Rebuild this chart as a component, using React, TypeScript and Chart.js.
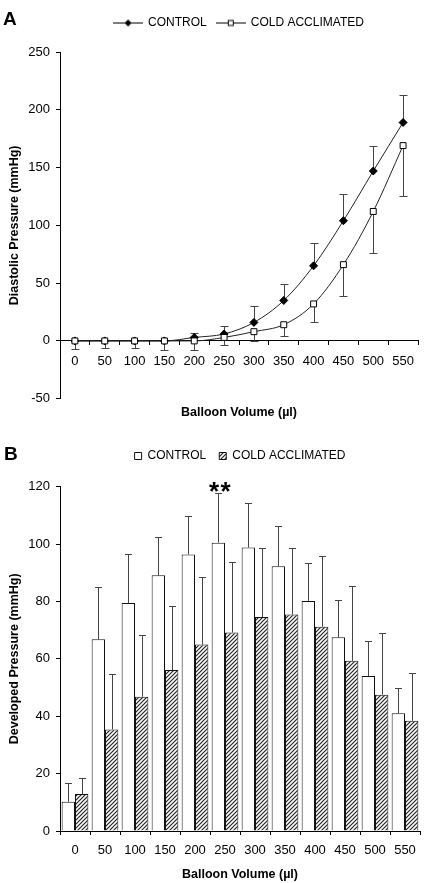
import React, { useEffect, useRef } from "react";
import { Chart, registerables } from "chart.js";

Chart.register(...registerables);

// ---------- data ----------
const volumes = ["0", "50", "100", "150", "200", "250", "300", "350", "400", "450", "500", "550"];
const seriesNames = ["CONTROL", "COLD ACCLIMATED"];

// Panel A: diastolic pressure (mmHg)
const diastolicControl = [0, 0, 0, 0, 3, 6, 16, 35, 65, 104, 147, 189];
const diastolicControlErr = [0, 0, 0, 0, 4, 7, 14, 14, 20, 23, 22, 24];
const diastolicCold = [0, 0, 0, 0, 0, 3, 8, 14, 32, 66, 112, 169];
const diastolicColdErr = [7, 6, 6.5, 8, 8, 6.7, 8, 9.5, 15.5, 27, 35.5, 44];

// Panel B: developed pressure (mmHg)
const developedControl = [10.2, 66.8, 79.5, 89.1, 96.4, 100.5, 98.8, 92.3, 80.2, 67.5, 54, 41];
const developedControlErr = [6.4, 18.1, 17.2, 13.4, 13.3, 17.2, 15.4, 14.1, 13.3, 13, 12.3, 8.7];
const developedCold = [12.9, 35.4, 46.8, 56.1, 65, 69.2, 74.6, 75.5, 71.2, 59.3, 47.5, 38.4];
const developedColdErr = [5.5, 19.3, 21.5, 22.3, 23.6, 24.6, 24.2, 23, 24.8, 26.1, 21.4, 16.8];
const significance = ["", "", "", "", "", "**", "", "", "", "", "", ""];

const FONT = "'Liberation Sans', Arial, Helvetica, sans-serif";

Chart.defaults.font.family = FONT;
Chart.defaults.color = "#000";

// ---------- helpers ----------
function lineSymbol(kind: "diamond" | "square"): HTMLCanvasElement {
  const c = document.createElement("canvas");
  c.width = 30;
  c.height = 11;
  const g = c.getContext("2d")!;
  g.strokeStyle = "#000";
  g.lineWidth = 1;
  g.beginPath();
  g.moveTo(0, 5.5);
  g.lineTo(30, 5.5);
  g.stroke();
  if (kind === "diamond") {
    g.fillStyle = "#000";
    g.beginPath();
    g.moveTo(15, 2);
    g.lineTo(18.5, 5.5);
    g.lineTo(15, 9);
    g.lineTo(11.5, 5.5);
    g.closePath();
    g.fill();
  } else {
    g.fillStyle = "#fff";
    g.fillRect(12.5, 3, 5, 5);
    g.strokeRect(12.5, 3, 5, 5);
  }
  return c;
}

function makeHatch(): CanvasPattern | string {
  const c = document.createElement("canvas");
  c.width = 4;
  c.height = 4;
  const g = c.getContext("2d")!;
  g.fillStyle = "#fff";
  g.fillRect(0, 0, 4, 4);
  g.strokeStyle = "#222";
  g.lineWidth = 1.2;
  g.beginPath();
  g.moveTo(-1, 5);
  g.lineTo(5, -1);
  g.moveTo(-1, 1);
  g.lineTo(1, -1);
  g.moveTo(3, 5);
  g.lineTo(5, 3);
  g.stroke();
  return g.createPattern(c, "repeat") || "#888";
}

const errorBarsPlugin = {
  id: "errorBars",
  beforeDatasetsDraw(chart: any) {
    const ctx = chart.ctx;
    chart.data.datasets.forEach((ds: any, di: number) => {
      if (!ds.errors) return;
      const meta = chart.getDatasetMeta(di);
      const yScale = chart.scales[meta.yAxisID];
      const cap = ds.errorCap || 4;
      ctx.save();
      ctx.strokeStyle = ds.errorColor || "#444";
      ctx.lineWidth = 1;
      meta.data.forEach((el: any, i: number) => {
        const v = ds.data[i];
        const e = ds.errors[i];
        if (!e) return;
        const x = Math.round(el.x) + 0.5;
        const y0 = yScale.getPixelForValue(v);
        const y1 = Math.round(yScale.getPixelForValue(v + ds.errorDir * e)) + 0.5;
        ctx.beginPath();
        ctx.moveTo(x, y0);
        ctx.lineTo(x, y1);
        ctx.moveTo(x - cap, y1);
        ctx.lineTo(x + cap, y1);
        ctx.stroke();
      });
      ctx.restore();
    });
  },
};

const annotationsPlugin = {
  id: "annotations",
  afterDatasetsDraw(chart: any, _args: any, opts: any) {
    const ctx = chart.ctx;
    if (opts && opts.panel) {
      ctx.save();
      ctx.fillStyle = "#000";
      ctx.font = `bold 19px ${FONT}`;
      ctx.textBaseline = "alphabetic";
      ctx.textAlign = "left";
      ctx.fillText(opts.panel, opts.panelX, opts.panelY);
      ctx.restore();
    }
    if (opts && opts.marks) {
      const ds = chart.data.datasets[0];
      const meta = chart.getDatasetMeta(0);
      const yScale = chart.scales[meta.yAxisID];
      ctx.save();
      ctx.fillStyle = "#000";
      ctx.font = `bold 26px ${FONT}`;
      ctx.textAlign = "center";
      ctx.textBaseline = "alphabetic";
      opts.marks.forEach((m: string, i: number) => {
        if (!m) return;
        const el = meta.data[i];
        const top = yScale.getPixelForValue(ds.data[i] + (ds.errors ? ds.errors[i] : 0));
        const chars = m.split("");
        const step = 11.3;
        const cx = el.x + 1.5;
        chars.forEach((ch, k) => {
          const x = cx + (k - (chars.length - 1) / 2) * step;
          ctx.fillText(ch, x, top + 7);
        });
      });
      ctx.restore();
    }
  },
};

const axisTitleFont = { family: FONT, size: 12.5, weight: "bold" as const, lineHeight: 1.2 };
const yTickFont = { family: FONT, size: 13, lineHeight: 1.2 };
const xTickFont = { family: FONT, size: 13, lineHeight: 1.2 };

function spacer(h: number) {
  return {
    display: true,
    text: " ",
    position: "top" as const,
    weight: 100,
    font: { size: 1, lineHeight: 1 },
    padding: { top: 0, bottom: h - 1 },
  };
}

function diastolicConfig(): any {
  return {
    type: "line",
    data: {
      labels: volumes,
      datasets: [
        {
          label: seriesNames[0],
          data: diastolicControl,
          errors: diastolicControlErr,
          errorDir: 1,
          errorColor: "#444",
          errorCap: 4,
          xAxisID: "xa",
          yAxisID: "y",
          order: 1,
          borderColor: "#222",
          borderWidth: 1,
          fill: false,
          cubicInterpolationMode: "monotone",
          pointStyle: "rectRot",
          pointRadius: 4,
          pointBackgroundColor: "#000",
          pointBorderColor: "#000",
          pointBorderWidth: 1,
        },
        {
          label: seriesNames[1],
          data: diastolicCold,
          errors: diastolicColdErr,
          errorDir: -1,
          errorColor: "#444",
          errorCap: 4,
          xAxisID: "xa",
          yAxisID: "y",
          order: 0,
          borderColor: "#222",
          borderWidth: 1,
          fill: false,
          cubicInterpolationMode: "monotone",
          pointStyle: "rect",
          pointRadius: 4.2,
          pointBackgroundColor: "#fff",
          pointBorderColor: "#000",
          pointBorderWidth: 1,
        },
      ],
    },
    options: {
      responsive: false,
      animation: false,
      events: [],
      layout: { padding: { top: 7, right: 6, bottom: 3.5, left: 0 } },
      scales: {
        x: {
          type: "category",
          position: "bottom",
          offset: true,
          ticks: { display: false },
          grid: { display: false, drawTicks: false, tickLength: 0 },
          border: { display: false },
          title: {
            display: true,
            text: "Balloon Volume (µl)",
            color: "#000",
            font: axisTitleFont,
            padding: { top: 6.8, bottom: 4 },
          },
        },
        xa: {
          type: "category",
          position: { y: 0 },
          offset: true,
          grid: {
            display: true,
            drawOnChartArea: false,
            drawTicks: true,
            tickLength: 4,
            color: "#000",
            offset: true,
          },
          border: { display: true, color: "#000", width: 1 },
          ticks: { font: xTickFont, color: "#000", padding: 8.9, autoSkip: false, maxRotation: 0 },
        },
        y: {
          min: -50,
          max: 250,
          ticks: { stepSize: 50, font: yTickFont, color: "#000", padding: 6 },
          grid: { display: true, drawOnChartArea: false, drawTicks: true, tickLength: 4, color: "#000" },
          border: { display: true, color: "#000", width: 1 },
          title: {
            display: true,
            text: "Diastolic Pressure (mmHg)",
            color: "#000",
            font: axisTitleFont,
            padding: { top: 7.5, bottom: 0 },
          },
          afterFit: (s: any) => {
            s.width = 60;
          },
        },
      },
      plugins: {
        tooltip: { enabled: false },
        subtitle: spacer(13),
        legend: {
          display: true,
          position: "top",
          fullSize: false,
          labels: {
            usePointStyle: true,
            pointStyleWidth: 28,
            padding: 10,
            color: "#000",
            font: { family: FONT, size: 12 },
            generateLabels: () => [
              { text: seriesNames[0], pointStyle: lineSymbol("diamond"), fillStyle: "#000", strokeStyle: "#000", lineWidth: 0, datasetIndex: 0, hidden: false },
              { text: seriesNames[1], pointStyle: lineSymbol("square"), fillStyle: "#fff", strokeStyle: "#000", lineWidth: 0, datasetIndex: 1, hidden: false },
            ],
          },
        },
        annotations: { panel: "A", panelX: 3, panelY: 25 },
      },
    },
    plugins: [errorBarsPlugin, annotationsPlugin],
  };
}

function developedConfig(): any {
  const hatch = makeHatch();
  return {
    type: "bar",
    data: {
      labels: volumes,
      datasets: [
        {
          label: seriesNames[0],
          data: developedControl,
          errors: developedControlErr,
          errorDir: 1,
          errorColor: "#444",
          errorCap: 3.5,
          backgroundColor: "#fff",
          borderColor: "#111",
          borderWidth: 1,
          categoryPercentage: 0.89,
          barPercentage: 1,
        },
        {
          label: seriesNames[1],
          data: developedCold,
          errors: developedColdErr,
          errorDir: 1,
          errorColor: "#444",
          errorCap: 3.5,
          backgroundColor: hatch,
          borderColor: "#111",
          borderWidth: 1,
          categoryPercentage: 0.89,
          barPercentage: 1,
        },
      ],
    },
    options: {
      responsive: false,
      animation: false,
      events: [],
      layout: { padding: { top: 9, right: 4, bottom: 0, left: 0 } },
      scales: {
        x: {
          type: "category",
          position: "bottom",
          offset: true,
          grid: {
            display: true,
            drawOnChartArea: false,
            drawTicks: true,
            tickLength: 4,
            color: "#000",
            offset: true,
          },
          border: { display: true, color: "#000", width: 1 },
          ticks: { font: xTickFont, color: "#000", padding: 7.2, autoSkip: false, maxRotation: 0 },
          title: {
            display: true,
            text: "Balloon Volume (µl)",
            color: "#000",
            font: axisTitleFont,
            padding: { top: 2.5, bottom: 0.5 },
          },
        },
        y: {
          min: 0,
          max: 120,
          ticks: { stepSize: 20, font: yTickFont, color: "#000", padding: 6 },
          grid: { display: true, drawOnChartArea: false, drawTicks: true, tickLength: 4, color: "#000" },
          border: { display: true, color: "#000", width: 1 },
          title: {
            display: true,
            text: "Developed Pressure (mmHg)",
            color: "#000",
            font: axisTitleFont,
            padding: { top: 7.5, bottom: 0 },
          },
          afterFit: (s: any) => {
            s.width = 60;
          },
        },
      },
      plugins: {
        tooltip: { enabled: false },
        subtitle: spacer(14.7),
        legend: {
          display: true,
          position: "top",
          fullSize: false,
          labels: {
            boxWidth: 7,
            boxHeight: 7,
            padding: 13,
            color: "#000",
            font: { family: FONT, size: 12 },
          },
        },
        annotations: { panel: "B", panelX: 4, panelY: 32, marks: significance },
      },
    },
    plugins: [errorBarsPlugin, annotationsPlugin],
  };
}

function ChartCanvas({ width, height, makeConfig }: { width: number; height: number; makeConfig: () => any }) {
  const ref = useRef<HTMLCanvasElement>(null);
  useEffect(() => {
    if (!ref.current) return;
    const chart = new Chart(ref.current, makeConfig());
    return () => chart.destroy();
  }, []);
  return <canvas ref={ref} width={width} height={height} style={{ display: "block", width, height }} />;
}

export default function App() {
  return (
    <div
      style={{
        position: "absolute",
        left: 0,
        top: 0,
        width: 424,
        height: 883,
        overflow: "hidden",
        background: "#fff",
      }}
    >
      <ChartCanvas width={424} height={428} makeConfig={diastolicConfig} />
      <ChartCanvas width={424} height={455} makeConfig={developedConfig} />
    </div>
  );
}
